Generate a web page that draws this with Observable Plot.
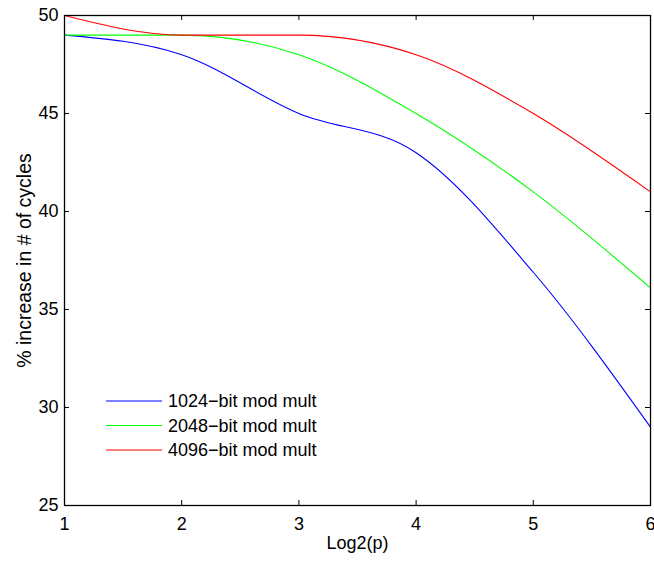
<!DOCTYPE html>
<html>
<head>
<meta charset="utf-8">
<script src="https://cdn.jsdelivr.net/npm/d3@7"></script>
<script src="https://cdn.jsdelivr.net/npm/@observablehq/plot@0.6"></script>
<style>
  html, body { margin: 0; padding: 0; background: #fff; }
  #chart svg { display: block; overflow: visible; }
</style>
</head>
<body>
<div id="chart"></div>
<script>
// ---- data ----
const xValues = [1, 2, 3, 4, 5, 6];
const seriesNames = ["1024\u2212bit mod mult", "2048\u2212bit mod mult", "4096\u2212bit mod mult"];
const seriesColors = ["#0000ff", "#00ff00", "#ff0000"];
const values1024 = [49, 48, 45, 43, 36.9, 29];
const values2048 = [49, 49, 48, 45, 41, 36.1];
const values4096 = [50, 49, 49, 48, 45, 41];
const xTicks = [1, 2, 3, 4, 5, 6];
const yTicks = [25, 30, 35, 40, 45, 50];
const xLabel = "Log2(p)";
const yLabel = "% increase in # of cycles";

// ---- build table ----
const allValues = [values1024, values2048, values4096];
const rows = [];
seriesNames.forEach((name, i) => {
  xValues.forEach((x, j) => rows.push({series: name, x, y: allValues[i][j]}));
});

const W = 654, H = 563;
const M = {top: 15, right: 4, bottom: 58, left: 64};
const plotW = W - M.left - M.right;
const plotH = H - M.top - M.bottom;
const tick = 5;
const font = "'Liberation Sans', Arial, Helvetica, sans-serif";

const chart = Plot.plot({
  width: W,
  height: H,
  marginTop: M.top,
  marginRight: M.right,
  marginBottom: M.bottom,
  marginLeft: M.left,
  style: {fontFamily: font, fontSize: "18px", color: "#000", background: "#fff", overflow: "visible"},
  x: {domain: [1, 6], label: null},
  y: {domain: [25, 50], label: null},
  color: {domain: seriesNames, range: seriesColors},
  marks: [
    Plot.axisX(xTicks, {tickSize: 0, tickPadding: 12, tickFormat: d => String(d), fill: "#000"}),
    Plot.axisY(yTicks, {tickSize: 0, tickPadding: 6, tickFormat: d => String(d), fill: "#000"}),
    // inward ticks on all four sides
    Plot.tickX(xTicks, {x: d => d, insetTop: plotH - tick, stroke: "#000", strokeWidth: 1}),
    Plot.tickX(xTicks, {x: d => d, insetBottom: plotH - tick, stroke: "#000", strokeWidth: 1}),
    Plot.tickY(yTicks, {y: d => d, insetRight: plotW - tick, stroke: "#000", strokeWidth: 1}),
    Plot.tickY(yTicks, {y: d => d, insetLeft: plotW - tick, stroke: "#000", strokeWidth: 1}),
    Plot.line(rows, {x: "x", y: "y", z: "series", stroke: "series", curve: "monotone-x", strokeWidth: 1.1}),
    Plot.frame({stroke: "#000", strokeWidth: 1.3}),
    Plot.text([xLabel], {frameAnchor: "bottom", dy: 43, text: d => d, fill: "#000"}),
    Plot.text([yLabel], {frameAnchor: "left", textAnchor: "middle", dx: -40, rotate: -90, fontSize: 19.5, text: d => d, fill: "#000"})
  ]
});

document.getElementById("chart").appendChild(chart);

// ---- legend inside the axes (lower-left) ----
const svg = d3.select(chart);
const legend = svg.append("g")
  .attr("font-family", font)
  .attr("font-size", 18)
  .attr("text-anchor", "start")
  .attr("transform", `translate(${M.left + 42},${M.top + 386})`);
seriesNames.forEach((name, i) => {
  const g = legend.append("g").attr("transform", `translate(0,${i * 24.5})`);
  g.append("line").attr("x1", 0).attr("x2", 56).attr("y1", 0).attr("y2", 0)
    .attr("stroke", chart.scale("color").apply(name)).attr("stroke-width", 1.1);
  g.append("text").attr("x", 62).attr("y", 0).attr("dy", "0.35em")
    .attr("text-anchor", "start")
    .attr("fill", "#000").text(name);
});
</script>
</body>
</html>
